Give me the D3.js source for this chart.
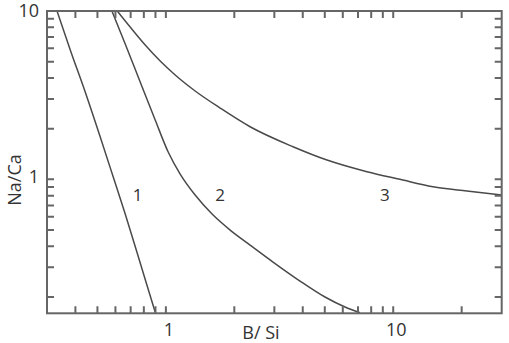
<!DOCTYPE html>
<html><head><meta charset="utf-8">
<script src="https://cdn.jsdelivr.net/npm/d3@7"></script>
<style>body{margin:0;background:#fff}svg{display:block}</style>
</head><body>
<script>
// ---- data ----
const curve1X = [0.332, 0.3797, 0.4418, 0.5144, 0.5868, 0.6625, 0.748, 0.8277, 0.8975];
const curve1Y = [10.0, 5.87, 3.30, 1.783, 1.032, 0.622, 0.365, 0.2323, 0.1627];
const curve2X = [0.579, 0.6625, 0.771, 0.8975, 1.0236, 1.1556, 1.345, 1.597, 1.917, 2.346, 2.96, 3.891, 5.01, 6.136, 7.14];
const curve2Y = [10.0, 6.37, 3.785, 2.251, 1.453, 1.075, 0.807, 0.622, 0.4997, 0.407, 0.3226, 0.2487, 0.1999, 0.1743, 0.1612];
const curve3X = [0.611, 0.6966, 0.8112, 0.9441, 1.099, 1.345, 1.732, 2.346, 3.625, 5.113, 7.663, 10.7, 14.95, 21.08, 30.0];
const curve3Y = [10.0, 8.03, 6.28, 5.045, 4.166, 3.347, 2.652, 2.053, 1.562, 1.302, 1.110, 1.0, 0.904, 0.852, 0.807];
const curveNames = ["1", "2", "3"];
const curveLabelX = [0.752, 1.73, 9.19];
const curveLabelY = [0.743, 0.743, 0.743];
const xTicks = [0.4, 0.5, 0.6, 0.7, 0.8, 0.9, 1, 2, 3, 4, 5, 6, 7, 8, 9, 10, 20];
const yTicks = [0.2, 0.3, 0.4, 0.5, 0.6, 0.7, 0.8, 0.9, 1, 2, 3, 4, 5, 6, 7, 8, 9];
const xLabels = [1, 10];
const yLabels = [1, 10];
const xDomain = [0.3, 30];
const yDomain = [0.16, 10];
const xTitle = "B/ Si";
const yTitle = "Na/Ca";

// ---- chart ----
const W = 509, H = 343;
const m = {l: 47, t: 11, r: 7.3, b: 29.7};
const iw = W - m.l - m.r, ih = H - m.t - m.b;
const x = d3.scaleLog().domain(xDomain).range([0, iw]);
const y = d3.scaleLog().domain(yDomain).range([ih, 0]);
const font = "'Open Sans', sans-serif";
const frameCol = "#666666", lineCol = "#4a4a4a", textCol = "#333";

const svg = d3.select("body").append("svg").attr("width", W).attr("height", H);
const g = svg.append("g").attr("transform", `translate(${m.l},${m.t})`);

g.append("clipPath").attr("id", "clip").append("rect").attr("width", iw).attr("height", ih);

const series = [[curve1X, curve1Y], [curve2X, curve2Y], [curve3X, curve3Y]];
const curveLine = d3.line().x(d => x(d[0])).y(d => y(d[1])).curve(d3.curveMonotoneX);
g.append("g").attr("clip-path", "url(#clip)").selectAll("path").data(series).join("path")
  .attr("d", s => curveLine(s[0].map((v, i) => [v, s[1][i]])))
  .attr("fill", "none").attr("stroke", lineCol).attr("stroke-width", 1.5);

// inward ticks on all four sides, built as one path from the scales
const tl = 7;
const p = d3.path();
xTicks.forEach(d => {
  const px = x(d);
  p.moveTo(px, ih); p.lineTo(px, ih - tl);
  p.moveTo(px, 0); p.lineTo(px, tl);
});
yTicks.forEach(d => {
  const py = y(d);
  p.moveTo(0, py); p.lineTo(tl, py);
  p.moveTo(iw, py); p.lineTo(iw - tl, py);
});
g.append("path").attr("d", p.toString())
  .attr("fill", "none").attr("stroke", frameCol).attr("stroke-width", 2);

g.append("rect").attr("width", iw).attr("height", ih)
  .attr("fill", "none").attr("stroke", frameCol).attr("stroke-width", 2);

// tick labels
g.selectAll("text.xlab").data(xLabels).join("text").attr("class", "xlab")
  .attr("x", d => x(d) + 3).attr("y", ih + 23)
  .attr("text-anchor", "middle").attr("font-family", font).attr("font-size", 18).attr("fill", textCol)
  .text(d => d);
g.selectAll("text.ylab").data(yLabels).join("text").attr("class", "ylab")
  .attr("x", -8).attr("y", d => Math.max(y(d) + 4, 6))
  .attr("text-anchor", "end").attr("font-family", font).attr("font-size", 18).attr("fill", textCol)
  .text(d => d);

// titles
svg.append("text").attr("x", 261).attr("y", 339).attr("text-anchor", "middle")
  .attr("font-family", font).attr("font-size", 18).attr("fill", textCol).text(xTitle);
svg.append("text").attr("transform", "translate(21,180) rotate(-90)").attr("text-anchor", "middle")
  .attr("font-family", font).attr("font-size", 18).attr("fill", textCol).text(yTitle);

// curve labels
g.selectAll("text.clab").data(curveNames).join("text").attr("class", "clab")
  .attr("x", (d, i) => x(curveLabelX[i])).attr("y", (d, i) => y(curveLabelY[i]))
  .attr("text-anchor", "middle").attr("font-family", font).attr("font-size", 17).attr("fill", textCol)
  .text(d => d);
</script>
</body></html>
